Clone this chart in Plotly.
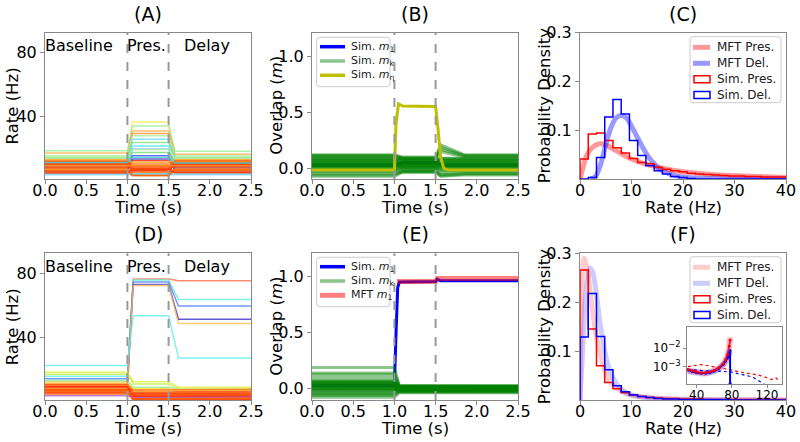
import numpy as np
import plotly.graph_objects as go

FONT = "DejaVu Sans"

# ---------------- Panel A : rates (no retrieval) ----------------
A_knots = [0.0, 1.0, 1.06, 1.5, 1.58, 2.5]
A_base = [11.0, 18.2, 16.8, 12.5, 15.1, 9.0, 14.1, 8.0, 7.0, 10.0, 6.0, 5.0, 7.5, 12.0, 11.5,
          10.5, 9.5, 8.5, 6.5, 5.5, 4.8, 13.0, 6.2, 3.2, 3.8, 12.8, 9.8, 7.2, 11.2, 8.8, 13.5,
          10.8, 5.8, 4.2]
A_pres = [36.3, 33.8, 30.7, 29.0, 27.6, 25.5, 23.4, 21.3, 19.3, 17.2, 15.1, 13.1, 12.0, 10.5, 9.5,
          8.5, 7.5, 6.8, 6.0, 5.2, 4.5, 4.0, 3.5, 3.0, 3.5, 11.0, 5.8, 2.8, 7.2, 9.0, 19.0,
          14.0, 2.5, 6.5]
A_delay = [11.5, 17.9, 16.0, 13.0, 15.0, 9.5, 14.0, 8.0, 7.5, 10.5, 6.5, 5.5, 8.0, 12.0, 11.0,
           10.0, 9.5, 8.5, 6.5, 5.5, 4.8, 12.5, 6.0, 3.2, 3.8, 12.8, 9.5, 7.0, 11.0, 8.8, 13.5,
           10.5, 6.0, 4.5]
A_colors = ["#f0f050", "#98f098", "#ffb050", "#ff9030", "#a8f0a0", "#70d8ff", "#80e880", "#50e8f0",
            "#80b8ff", "#70e070", "#3050ff", "#5030b0", "#ff2000", "#ff6010", "#ff8020", "#ff3010",
            "#ff7020", "#ff4010", "#ff9030", "#ff3000", "#ff8020", "#ff5010", "#ffa040", "#90d0ff",
            "#60e0ff", "#ffc040", "#ff4000", "#ff7010", "#ff5000", "#ff9020", "#b0f0a0", "#40d0e0",
            "#ff6000", "#ff3000"]

# ---------------- Panel D : rates (retrieval) ----------------
D_knots = [0.0, 1.0, 1.07, 1.5, 1.62, 2.5]
D_base = [7.0, 15.4, 13.8, 10.0, 12.0, 22.1, 17.9, 16.7, 12.5, 11.0, 10.6, 10.0, 9.5, 9.0, 8.5,
          8.0, 7.5, 7.0, 6.5, 6.0, 5.5, 5.0, 4.5, 4.3, 3.2, 9.8, 8.8, 6.8]
D_pres = [76.4, 75.8, 74.5, 73.0, 72.3, 53.3, 12.0, 10.6, 8.5, 7.5, 6.5, 5.5, 5.0, 4.5, 4.0,
          3.5, 3.0, 2.5, 2.0, 1.5, 1.0, 0.7, 6.0, 3.8, 2.2, 7.0, 2.8, 1.2]
D_delay = [75.3, 63.5, 59.4, 51.2, 48.4, 26.8, 8.5, 7.4, 7.0, 6.5, 6.0, 5.5, 5.0, 4.5, 4.0,
           3.5, 3.0, 2.5, 2.0, 1.5, 1.0, 0.5, 6.8, 4.2, 2.5, 7.2, 3.2, 1.5]
D_colors = ["#ff7050", "#60f0d8", "#5080ff", "#4030d0", "#ffc050", "#60f0f0", "#e0f040", "#c0f040",
            "#90ee90", "#ffe040", "#ff9030", "#ff4010", "#ff7020", "#ff2000", "#ff8020", "#ff5010",
            "#ff9030", "#ff3000", "#ff6010", "#ff4000", "#ff7020", "#ff2000", "#ffa040", "#ff5000",
            "#b060d0", "#ff8020", "#ff3010", "#ff6000"]

# ---------------- Panel B : overlaps (no retrieval) ----------------
B_knots = [0.0, 1.0, 1.1, 1.5, 1.56, 1.85, 2.5]
B_base = [0.12, 0.115, 0.11, 0.10, 0.09, 0.085, 0.08, 0.07, 0.065, 0.06, 0.05, 0.045, 0.04,
          0.035, 0.03, 0.025, 0.02, 0.015, 0.01, 0.0, -0.01, -0.02, -0.03, -0.045, -0.06, -0.07]
B_pres = [0.10, 0.09, 0.095, 0.085, 0.08, 0.07, 0.075, 0.06, 0.065, 0.05, 0.055, 0.04, 0.045,
          0.03, 0.035, 0.02, 0.025, 0.01, 0.015, 0.0, 0.005, -0.01, -0.02, -0.03, -0.03, -0.035]
B_post = [0.21, 0.19, 0.17, 0.15, 0.09, 0.085, 0.08, 0.07, 0.065, 0.06, 0.05, 0.045, 0.04,
          0.035, 0.03, 0.025, 0.02, 0.015, 0.01, 0.0, -0.01, -0.02, -0.04, -0.055, -0.065, -0.07]
B_delay = [0.12, 0.115, 0.11, 0.10, 0.09, 0.085, 0.08, 0.07, 0.065, 0.06, 0.05, 0.045, 0.04,
           0.035, 0.03, 0.025, 0.02, 0.015, 0.01, 0.0, -0.01, -0.02, -0.03, -0.045, -0.05, -0.06]
B_m1_t = [0.0, 1.0, 1.1, 1.5, 1.6, 2.5]
B_m1 = [0.03, 0.03, 0.05, 0.05, 0.03, 0.03]
B_meta_t = [0.0, 1.0, 1.02, 1.05, 1.1, 1.5, 1.53, 1.56, 1.6, 1.65, 2.5]
B_meta = [-0.015, -0.015, 0.4, 0.575, 0.555, 0.55, 0.35, 0.1, 0.0, -0.015, -0.015]

# ---------------- Panel E : overlaps (retrieval) ----------------
E_knots = [0.0, 1.0, 1.06, 2.5]
E_base = [0.19, 0.14, 0.127, 0.10, 0.074, 0.07, 0.06, 0.055, 0.05, 0.045, 0.04, 0.035, 0.03,
          0.025, 0.02, 0.01, 0.005, 0.0, -0.005, -0.01, -0.02, -0.03, -0.04, -0.05, -0.06, -0.075]
E_after = [0.03, 0.02, 0.025, 0.015, 0.01, 0.02, 0.005, 0.0, 0.01, -0.005, 0.015, -0.01, 0.0,
           0.02, -0.015, 0.005, -0.02, 0.01, -0.025, 0.0, -0.01, 0.005, -0.03, -0.015, -0.02, -0.035]
E_m1_t = [0.0, 1.0, 1.02, 1.04, 1.06, 1.5, 1.52, 1.56, 2.5]
E_m1 = [0.03, 0.03, 0.5, 0.9, 0.95, 0.955, 0.975, 0.96, 0.96]
E_mft_t = [1.03, 1.5, 1.52, 2.5]
E_mft = [0.955, 0.955, 0.98, 0.98]

# ---------------- Panel C : rate distributions (no retrieval) ----------------
bin_edges = np.linspace(0, 40, 26)
C_sim_pres = [0.041, 0.092, 0.094, 0.079, 0.064, 0.053, 0.042, 0.034, 0.031, 0.024, 0.020, 0.017,
              0.015, 0.012, 0.010, 0.009, 0.008, 0.007, 0.006, 0.006, 0.005, 0.005, 0.004, 0.004, 0.004]
C_sim_del = [0.0, 0.003, 0.044, 0.127, 0.163, 0.133, 0.079, 0.048, 0.027, 0.017, 0.010, 0.005,
             0.003, 0.001, 0.0, 0.0, 0.0, 0.0, 0.0, 0.0, 0.0, 0.0, 0.0, 0.0, 0.0]
C_mft_pres_x = [0, 0.5, 1, 1.5, 2, 3, 4, 5, 6, 7, 8, 9, 10, 12, 14, 16, 18, 20, 25, 30, 35, 40]
C_mft_pres = [0.0, 0.02, 0.04, 0.052, 0.06, 0.069, 0.072, 0.07, 0.064, 0.058, 0.052, 0.046, 0.041,
              0.033, 0.027, 0.022, 0.018, 0.015, 0.010, 0.007, 0.005, 0.003]
C_mft_del_x = [2, 3, 4, 5, 6, 7, 8, 9, 10, 11, 12, 13, 14, 15, 16, 18, 20, 22, 25, 30, 40]
C_mft_del = [0.0, 0.005, 0.03, 0.07, 0.105, 0.125, 0.13, 0.125, 0.108, 0.088, 0.068, 0.05, 0.036,
             0.025, 0.017, 0.008, 0.004, 0.002, 0.001, 0.0, 0.0]

# ---------------- Panel F : rate distributions (retrieval) ----------------
F_sim_pres = [0.266, 0.145, 0.070, 0.036, 0.023, 0.015, 0.010, 0.007, 0.005, 0.004, 0.003, 0.003,
              0.002, 0.002, 0.002, 0.001, 0.001, 0.001, 0.001, 0.001, 0.001, 0.001, 0.001, 0.001, 0.001]
F_sim_del = [0.129, 0.218, 0.130, 0.062, 0.029, 0.017, 0.010, 0.007, 0.005, 0.003, 0.002, 0.002,
             0.001, 0.001, 0.001, 0.001, 0.001, 0.001, 0.0, 0.0, 0.0, 0.0, 0.0, 0.0, 0.0]
F_mft_pres_x = [0, 0.3, 0.8, 1.5, 2, 3, 4, 5, 6, 8, 10, 15, 20, 30, 40]
F_mft_pres = [0.0, 0.2, 0.29, 0.26, 0.22, 0.14, 0.09, 0.055, 0.035, 0.018, 0.01, 0.004, 0.002, 0.001, 0.0]
F_mft_del_x = [0, 0.5, 1, 1.5, 2, 2.5, 3, 4, 5, 6, 7, 8, 10, 15, 20, 30, 40]
F_mft_del = [0.0, 0.1, 0.2, 0.25, 0.27, 0.26, 0.23, 0.15, 0.09, 0.055, 0.035, 0.022, 0.01, 0.003,
             0.001, 0.0, 0.0]

# inset (log scale tails)
I_mft_x = [30, 35, 40, 45, 50, 55, 60, 65, 70, 73, 75, 77, 78]
I_mft_pres = [6e-4, 5.5e-4, 4.8e-4, 4.5e-4, 4.5e-4, 5e-4, 6e-4, 8e-4, 1.3e-3, 2.2e-3, 4e-3, 1.2e-2, 4e-2]
I_mft_del = [6e-4, 5.2e-4, 4.5e-4, 4.2e-4, 4.2e-4, 4.6e-4, 5.5e-4, 7.5e-4, 1.2e-3, 1.8e-3, 2.8e-3, 5e-3, 7e-3]
I_sim_pres = [7e-4, 6e-4, 5e-4, 4.5e-4, 4.6e-4, 5.2e-4, 6.2e-4, 8.5e-4, 1.4e-3, 2.4e-3, 4.5e-3, 1.3e-2, 2.8e-2]
I_sim_del = [6.5e-4, 5.5e-4, 4.6e-4, 4.4e-4, 4.4e-4, 4.8e-4, 5.8e-4, 8e-4, 1.3e-3, 2e-3, 3e-3, 5.5e-3, 7.5e-3]
I_tail_x = [30, 35, 40, 45, 50, 55, 60, 70, 80, 90, 100, 110, 120, 125, 130, 133]
I_tail_pres = [1.0e-3, 1.1e-3, 1.3e-3, 1.3e-3, 1.2e-3, 1.1e-3, 1.0e-3, 8e-4, 6.5e-4, 5e-4, 4e-4,
               3.5e-4, 2.5e-4, 2e-4, 2.5e-4, 1.8e-4]
I_tail_x_del = [30, 35, 40, 50, 60, 70, 80, 90, 100, 105, 110, 115, 117]
I_tail_del = [7e-4, 7e-4, 6.5e-4, 6e-4, 6e-4, 5.5e-4, 5e-4, 4e-4, 3e-4, 2.5e-4, 1.8e-4, 1.3e-4, 1.1e-4]

# legend labels
LEG_B = ["Sim. <i>m</i><sub>1</sub>", "Sim. <i>m</i><sub>k</sub>", "Sim. <i>m</i><sub>η</sub>"]
LEG_E = ["Sim. <i>m</i><sub>1</sub>", "Sim. <i>m</i><sub>k</sub>", "MFT <i>m</i><sub>1</sub>"]
LEG_CF = ["MFT Pres.", "MFT Del.", "Sim. Pres.", "Sim. Del."]

GREEN = "rgba(0,128,0,0.45)"
fig = go.Figure()

def add_rates(knots, base, pres, delay, colors, ax):
    for b, p, d, c in zip(base, pres, delay, colors):
        fig.add_trace(go.Scatter(x=knots, y=[b, b, p, p, d, d], mode="lines",
                                 line=dict(color=c, width=1.5), opacity=0.8,
                                 showlegend=False, hoverinfo="skip", xaxis="x" + ax, yaxis="y" + ax))

add_rates(A_knots, A_base, A_pres, A_delay, A_colors, "")
add_rates(D_knots, D_base, D_pres, D_delay, D_colors, "4")

# Panel B
fig.add_trace(go.Scatter(x=B_m1_t, y=B_m1, mode="lines", line=dict(color="blue", width=3),
                         name=LEG_B[0], showlegend=False, xaxis="x2", yaxis="y2"))
for b, p, q, d in zip(B_base, B_pres, B_post, B_delay):
    fig.add_trace(go.Scatter(x=B_knots, y=[b, b, p, p, q, d, d], mode="lines",
                             line=dict(color=GREEN, width=3), name=LEG_B[1], showlegend=False,
                             xaxis="x2", yaxis="y2"))
fig.add_trace(go.Scatter(x=B_meta_t, y=B_meta, mode="lines", line=dict(color="#bfbf00", width=3),
                         name=LEG_B[2], showlegend=False, xaxis="x2", yaxis="y2"))

# Panel E
fig.add_trace(go.Scatter(x=E_m1_t, y=E_m1, mode="lines", line=dict(color="blue", width=3),
                         name=LEG_E[0], showlegend=False, xaxis="x5", yaxis="y5"))
for b, a in zip(E_base, E_after):
    fig.add_trace(go.Scatter(x=E_knots, y=[b, b, a, a], mode="lines",
                             line=dict(color=GREEN, width=3), name=LEG_E[1], showlegend=False,
                             xaxis="x5", yaxis="y5"))
fig.add_trace(go.Scatter(x=E_mft_t, y=E_mft, mode="lines", line=dict(color="rgba(255,0,0,0.5)", width=5),
                         name=LEG_E[2], showlegend=False, xaxis="x5", yaxis="y5"))

# step histogram helper
def step_xy(h):
    xs = [bin_edges[0]] + list(bin_edges[:-1]) + [bin_edges[-1], bin_edges[-1]]
    ys = [0] + list(h) + [h[-1], 0]
    return xs, ys

def add_hist_panel(ax, mpx, mp, mdx, md, sp, sd, alpha):
    fig.add_trace(go.Scatter(x=mpx, y=mp, mode="lines", line=dict(color=f"rgba(255,0,0,{alpha})", width=5, shape="spline"),
                             name=LEG_CF[0], showlegend=False, xaxis="x" + ax, yaxis="y" + ax))
    fig.add_trace(go.Scatter(x=mdx, y=md, mode="lines", line=dict(color=f"rgba(0,0,255,{alpha})", width=5, shape="spline"),
                             name=LEG_CF[1], showlegend=False, xaxis="x" + ax, yaxis="y" + ax))
    for h, col, nm in [(sp, "red", LEG_CF[2]), (sd, "blue", LEG_CF[3])]:
        xs, ys = step_xy(h)
        fig.add_trace(go.Scatter(x=xs, y=ys, mode="lines", line=dict(color=col, width=1.5, shape="hv"),
                                 name=nm, showlegend=False, xaxis="x" + ax, yaxis="y" + ax))

add_hist_panel("3", C_mft_pres_x, C_mft_pres, C_mft_del_x, C_mft_del, C_sim_pres, C_sim_del, 0.4)
add_hist_panel("6", F_mft_pres_x, F_mft_pres, F_mft_del_x, F_mft_del, F_sim_pres, F_sim_del, 0.2)

# inset
fig.add_trace(go.Scatter(x=I_mft_x, y=I_mft_pres, mode="lines", line=dict(color="rgba(255,0,0,0.25)", width=6),
                         showlegend=False, xaxis="x7", yaxis="y7"))
fig.add_trace(go.Scatter(x=I_mft_x, y=I_mft_del, mode="lines", line=dict(color="rgba(0,0,255,0.2)", width=6),
                         showlegend=False, xaxis="x7", yaxis="y7"))
fig.add_trace(go.Scatter(x=I_tail_x, y=I_tail_pres, mode="lines", line=dict(color="red", width=1.2, dash="dot"),
                         showlegend=False, xaxis="x7", yaxis="y7"))
fig.add_trace(go.Scatter(x=I_tail_x_del, y=I_tail_del, mode="lines", line=dict(color="blue", width=1.2, dash="dot"),
                         showlegend=False, xaxis="x7", yaxis="y7"))
fig.add_trace(go.Scatter(x=I_mft_x + [I_mft_x[-1]], y=I_sim_del + [1.2e-4], mode="lines+markers",
                         line=dict(color="blue", width=2), marker=dict(size=3, color="blue"),
                         showlegend=False, xaxis="x7", yaxis="y7"))
fig.add_trace(go.Scatter(x=I_mft_x, y=I_sim_pres, mode="lines+markers",
                         line=dict(color="rgba(220,0,60,0.8)", width=2), marker=dict(size=3, color="red"),
                         showlegend=False, xaxis="x7", yaxis="y7"))

# ---------------- layout ----------------
W, H = 800, 442
def px_x(a, b): return [a / W, b / W]
def px_y(top, bot): return [1 - bot / H, 1 - top / H]

ROW1 = px_y(32.5, 179)
ROW2 = px_y(253.3, 400)
COL1 = px_x(45, 251)
COL2 = px_x(312, 518)
COL3 = px_x(580, 786)

axbase = dict(showline=True, mirror=True, linecolor="#888888", linewidth=1, showgrid=False, zeroline=False,
              automargin=False, ticks="outside", ticklen=4, tickcolor="#888888",
              tickfont=dict(family=FONT, size=16, color="black"))

def ax(dom, anchor, rng, tv, fmt, standoff=0):
    d = dict(axbase); d.update(domain=dom, anchor=anchor, range=rng, tickvals=tv, ticktext=[fmt.format(v) for v in tv],
                               ticklabelstandoff=standoff)
    return d

tt = [0.0, 0.5, 1.0, 1.5, 2.0, 2.5]
rt = [0, 10, 20, 30, 40]
XS = -7
fig.update_layout(
    xaxis=ax(COL1, "y", [0, 2.5], tt, "{:.1f}", XS), yaxis=ax(ROW1, "x", [0.5, 92.5], [40, 80], "{:d}"),
    xaxis2=ax(COL2, "y2", [0, 2.5], tt, "{:.1f}", XS), yaxis2=ax(ROW1, "x2", [-0.095, 1.21], [0.0, 0.5, 1.0], "{:.1f}"),
    xaxis3=ax(COL3, "y3", [0, 40], rt, "{:d}", XS), yaxis3=ax(ROW1, "x3", [0, 0.3], [0.1, 0.2, 0.3], "{:.1f}"),
    xaxis4=ax(COL1, "y4", [0, 2.5], tt, "{:.1f}", XS), yaxis4=ax(ROW2, "x4", [0.5, 92.5], [40, 80], "{:d}"),
    xaxis5=ax(COL2, "y5", [0, 2.5], tt, "{:.1f}", XS), yaxis5=ax(ROW2, "x5", [-0.1, 1.205], [0.0, 0.5, 1.0], "{:.1f}"),
    xaxis6=ax(COL3, "y6", [0, 40], rt, "{:d}", XS), yaxis6=ax(ROW2, "x6", [0, 0.3], [0.1, 0.2, 0.3], "{:.1f}"),
)
ins_x = dict(axbase); ins_x.update(domain=px_x(687, 782), anchor="y7", range=[29, 137], tickvals=[40, 80, 120],
                                   ticktext=["40", "80", "120"], tickfont=dict(family=FONT, size=12, color="black"),
                                   ticklen=3, ticklabelstandoff=-4)
ins_y = dict(axbase); ins_y.update(domain=px_y(327.3, 384.3), anchor="x7", type="log", range=[-3.96, -0.86],
                                   tickvals=[1e-3, 1e-2], ticktext=["10<sup>−3</sup>", "10<sup>−2</sup>"],
                                   tickfont=dict(family=FONT, size=12, color="black"), ticklen=3)
fig.update_layout(xaxis7=ins_x, yaxis7=ins_y)

shapes = []
ann = []

# dashed epoch lines
for xr, yr in [("x", "y"), ("x2", "y2"), ("x4", "y4"), ("x5", "y5")]:
    for xv in [1.0, 1.5]:
        shapes.append(dict(type="line", xref=xr, yref=yr + " domain", x0=xv, x1=xv, y0=0, y1=1,
                           line=dict(color="#999999", width=2, dash="dash"), layer="above"))

def text(x, y, s, size=16, xref="paper", yref="paper", angle=0, xanchor="center", yanchor="middle", color="black"):
    ann.append(dict(x=x, y=y, xref=xref, yref=yref, text=s, showarrow=False, textangle=angle,
                    font=dict(family=FONT, size=size, color=color), xanchor=xanchor, yanchor=yanchor))

for lab, col, row in [("(A)", COL1, 0), ("(B)", COL2, 0), ("(C)", COL3, 0),
                      ("(D)", COL1, 1), ("(E)", COL2, 1), ("(F)", COL3, 1)]:
    cx = (col[0] + col[1]) / 2
    text(cx, 1 - (14 if row == 0 else 234) / H, lab, size=19)
    text(cx, 1 - (207 if row == 0 else 428) / H, "Rate (Hz)" if col == COL3 else "Time (s)", size=16.5)

for row_dom in [ROW1, ROW2]:
    cy = (row_dom[0] + row_dom[1]) / 2
    text(12.7 / W, cy, "Rate (Hz)", size=16.5, angle=-90)
    text(277 / W, cy, "Overlap (<i>m</i>)", size=16.5, angle=-90)
    text(544.5 / W, cy, "Probability Density", size=16.5, angle=-90)

for xr, yr in [("x", "y"), ("x4", "y4")]:
    text(0.41, 84.5, "Baseline", xref=xr, yref=yr)
    text(1.23, 84.5, "Pres.", xref=xr, yref=yr)
    text(1.97, 84.5, "Delay", xref=xr, yref=yr)

# ---------- legends (drawn as boxes, handles and labels) ----------
def rbox(x0, x1, top, bot, r=3):
    X0, X1 = x0 / W, x1 / W
    Y0, Y1 = 1 - bot / H, 1 - top / H
    rx, ry = r / W, r / H
    path = (f"M {X0+rx},{Y1} L {X1-rx},{Y1} Q {X1},{Y1} {X1},{Y1-ry} L {X1},{Y0+ry} Q {X1},{Y0} {X1-rx},{Y0} "
            f"L {X0+rx},{Y0} Q {X0},{Y0} {X0},{Y0+ry} L {X0},{Y1-ry} Q {X0},{Y1} {X0+rx},{Y1} Z")
    shapes.append(dict(type="path", xref="paper", yref="paper", path=path, layer="above",
                       fillcolor="rgba(255,255,255,0.8)", line=dict(color="#cccccc", width=1)))

def hline(x0, x1, y, color, width):
    shapes.append(dict(type="line", xref="paper", yref="paper", x0=x0 / W, x1=x1 / W, y0=1 - y / H, y1=1 - y / H,
                       line=dict(color=color, width=width), layer="above"))

def hrect(x0, x1, y, color):
    shapes.append(dict(type="rect", xref="paper", yref="paper", x0=x0 / W, x1=x1 / W,
                       y0=1 - (y + 3.5) / H, y1=1 - (y - 3.5) / H, fillcolor="rgba(0,0,0,0)",
                       line=dict(color=color, width=1.5), layer="above"))

for dy, labels, handles in [(0, LEG_B, [("blue", 3.5), (GREEN, 3.5), ("#bfbf00", 3.5)]),
                            (220, LEG_E, [("blue", 3.5), (GREEN, 3.5), ("rgba(255,0,0,0.5)", 5)])]:
    rbox(316.7, 390, 37.3 + dy, 86.7 + dy)
    for k, (lab, (c, w)) in enumerate(zip(labels, handles)):
        yy = 46.7 + dy + k * 14.3
        hline(320, 345, yy, c, w)
        text(349 / W, 1 - yy / H, lab, size=11, xanchor="left", color="#222222")

for dy, a in [(0, 0.4), (220, 0.2)]:
    rbox(690, 781, 36.7 + dy, 102.7 + dy)
    rows = [47.3, 63.3, 79.3, 95.0]
    hline(693, 710, rows[0] + dy, f"rgba(255,0,0,{a})", 5)
    hline(693, 710, rows[1] + dy, f"rgba(0,0,255,{a})", 5)
    hrect(694, 710, rows[2] + dy, "red")
    hrect(694, 710, rows[3] + dy, "blue")
    for lab, yy in zip(LEG_CF, rows):
        text(715 / W, 1 - (yy + dy) / H, lab, size=12, xanchor="left", color="#222222")

fig.update_layout(shapes=shapes, annotations=ann)

fig.update_layout(width=W, height=H, margin=dict(l=0, r=0, t=0, b=0, autoexpand=False), plot_bgcolor="white",
                  paper_bgcolor="white", font=dict(family=FONT), showlegend=False)

fig.write_html("out.html", config={"displayModeBar": False},
               post_script="document.body.style.margin='0px';")
